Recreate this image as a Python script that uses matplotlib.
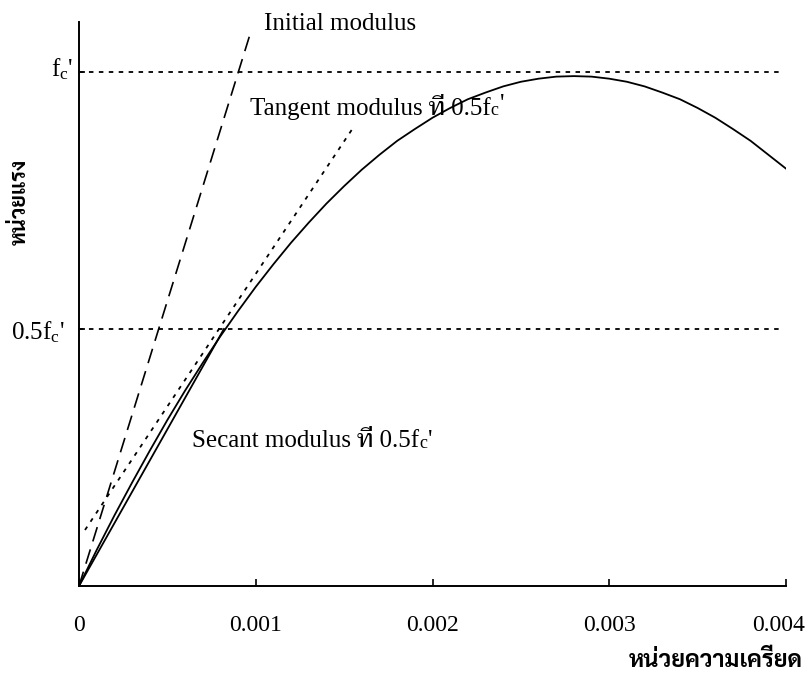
import matplotlib
matplotlib.use("Agg")
import matplotlib.pyplot as plt
from matplotlib import font_manager
from matplotlib.transforms import ScaledTranslation

# stress-strain curve (stress as a fraction of fc')
strain = [0, 0.0001, 0.0002, 0.0003, 0.0004, 0.0005, 0.0006, 0.0007, 0.0008, 0.0009,
          0.0010, 0.0011, 0.0012, 0.0013, 0.0014, 0.0015, 0.0016, 0.0017, 0.0018, 0.0019,
          0.0020, 0.0021, 0.0022, 0.0023, 0.0024, 0.0025, 0.0026, 0.0027, 0.0028, 0.0029,
          0.0030, 0.0031, 0.0032, 0.0033, 0.0034, 0.0035, 0.0036, 0.0037, 0.0038, 0.0039,
          0.0040]
stress = [0, 0.070, 0.137, 0.201, 0.263, 0.323, 0.380, 0.434, 0.486, 0.535,
          0.582, 0.626, 0.668, 0.707, 0.744, 0.778, 0.810, 0.839, 0.866, 0.889,
          0.911, 0.930, 0.947, 0.960, 0.972, 0.981, 0.987, 0.991, 0.992, 0.991,
          0.987, 0.981, 0.972, 0.960, 0.947, 0.930, 0.911, 0.889, 0.866, 0.839,
          0.812]

initial_x = [0, 0.00097]
initial_y = [0, 1.076]
tangent_x = [0.000034, 0.00155]
tangent_y = [0.109, 0.891]
secant_x = [0, 0.00082]
secant_y = [0, 0.5]

ref_levels = [0.5, 1.0]
ref_labels = ["0.5$\\mathrm{f_c}$'", "$\\mathrm{f_c}$'"]
xticks = [0, 0.001, 0.002, 0.003, 0.004]
xticklabels = ["0", "0.001", "0.002", "0.003", "0.004"]

available = {f.name for f in font_manager.fontManager.ttflist}
def pick(cands):
    for c in cands:
        if c in available:
            return c
    return "DejaVu Sans"

thai_serif = pick(["Taviraj", "Trirong", "Noto Serif Thai", "Charm"])
thai_sans = pick(["Sarabun", "Noto Sans Thai Looped", "Noto Sans Thai", "Thasadith"])
serif = ["Liberation Serif", thai_serif, "DejaVu Serif"]

plt.rcParams["font.family"] = serif
plt.rcParams["mathtext.fontset"] = "custom"
plt.rcParams["mathtext.rm"] = "Liberation Serif"
plt.rcParams["mathtext.it"] = "Liberation Serif:italic"

W, H = 811, 677
fig = plt.figure(figsize=(W / 100, H / 100), dpi=100)
ax = fig.add_axes([79 / W, 1 - 586 / H, 707 / W, 564 / H])
ax.set_xlim(0, 0.004)
ax.set_ylim(0, 564 / 514)

ax.plot(strain, stress, color="black", lw=1.3)
ax.plot(secant_x, secant_y, color="black", lw=1.3)
ax.plot(initial_x, initial_y, color="black", lw=1.2, linestyle=(0, (9, 5)))
ax.plot(tangent_x, tangent_y, color="black", lw=1.3, linestyle=(0, (2.2, 3.3)))
for lv in ref_levels:
    ax.plot([0, 0.00397], [lv, lv], color="black", lw=1.3, linestyle=(0, (2.5, 3)))

for s in ["top", "right"]:
    ax.spines[s].set_visible(False)
for s in ["left", "bottom"]:
    ax.spines[s].set_linewidth(1.4)

ax.set_xticks(xticks)
ax.set_xticklabels(xticklabels)
ax.tick_params(axis="x", direction="in", length=5, width=1.2, pad=21, labelsize=17)
xlabs = ax.get_xticklabels()
xlabs[-1].set_transform(xlabs[-1].get_transform() + ScaledTranslation(-7 / 100, 0, fig.dpi_scale_trans))
ax.set_yticks(ref_levels)
ax.set_yticklabels(ref_labels)
ax.tick_params(axis="y", direction="in", length=4, width=1.2, pad=6, labelsize=18)
ylabs = ax.get_yticklabels()
ylabs[0].set_transform(ylabs[0].get_transform() + ScaledTranslation(-6 / 100, 0, fig.dpi_scale_trans))
ylabs[1].set_transform(ylabs[1].get_transform() + ScaledTranslation(3 / 100, 6 / 100, fig.dpi_scale_trans))


def fc_text(x, y, prefix, fs=18):
    t1 = ax.text(x, y, prefix + "f", fontsize=fs, va="baseline", ha="left")
    t2 = ax.annotate("c", xy=(1, 0), xycoords=t1, xytext=(0, 0.5), textcoords="offset points",
                     fontsize=fs * 0.72, va="bottom", ha="left")
    ax.annotate("'", xy=(1, 1), xycoords=(t2, t1), xytext=(1, 0), textcoords="offset points",
                fontsize=fs, va="top", ha="left")


ax.text(0.001045, 1.082, "Initial modulus", fontsize=18, va="baseline", ha="left")
fc_text(0.000966, 0.916, "Tangent modulus ที่ 0.5")
fc_text(0.000638, 0.270, "Secant modulus ที่ 0.5")

fig.text(803 / W, 1 - 661 / H, "หน่วยความเครียด", family=[thai_sans, "DejaVu Sans"],
         fontsize=17, fontweight="bold", ha="right", va="center")
fig.text(20 / W, 1 - 202 / H, "หน่วยแรง", family=[thai_sans, "DejaVu Sans"],
         fontsize=15.5, fontweight="bold", ha="center", va="center", rotation=90)

fig.savefig("out.png", dpi=100)
